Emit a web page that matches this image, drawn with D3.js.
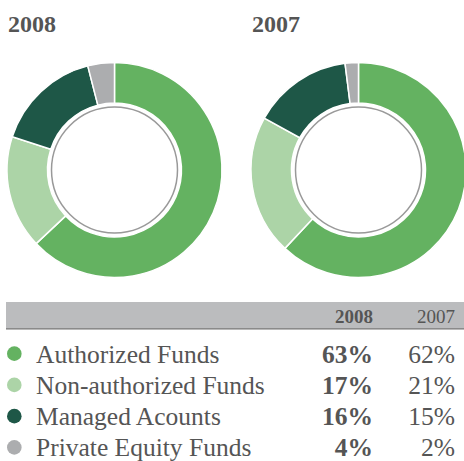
<!DOCTYPE html>
<html>
<head>
<meta charset="utf-8">
<script src="https://cdn.jsdelivr.net/npm/d3@7"></script>
<style>
  body { margin: 0; background: #fff; }
</style>
</head>
<body>
<script>
var categories = ["Authorized Funds", "Non-authorized Funds", "Managed Acounts", "Private Equity Funds"];
var years = ["2008", "2007"];
var values2008 = [63, 17, 16, 4];
var values2007 = [62, 21, 15, 2];
var colors = ["#64b261", "#acd4a7", "#1e5747", "#acadaf"];

var W = 464, H = 461;
var FONT = "'Liberation Serif', 'DejaVu Serif', Tinos, 'Times New Roman', serif";
var svg = d3.select("body").append("svg").attr("width", W).attr("height", H)
    .style("font-family", FONT);

var color = d3.scaleOrdinal().domain(categories).range(colors);
var pie = d3.pie().sort(null).value(function(d) { return d.value; });
var arc = d3.arc().innerRadius(67).outerRadius(107.5);

var charts = [
  {year: years[0], values: values2008, cx: 114.5, titleX: 8},
  {year: years[1], values: values2007, cx: 358.5, titleX: 252}
];

charts.forEach(function(c) {
  svg.append("text")
      .attr("x", c.titleX).attr("y", 32)
      .attr("font-family", FONT).attr("fill", "#555")
      .attr("font-size", 24).attr("font-weight", "bold")
      .text(c.year);

  var g = svg.append("g").attr("transform", "translate(" + c.cx + ",170)");
  var rows = categories.map(function(k, i) { return {key: k, value: c.values[i]}; });
  g.selectAll("path").data(pie(rows)).enter().append("path")
      .attr("d", arc)
      .attr("fill", function(d) { return color(d.data.key); })
      .attr("stroke", "#fff")
      .attr("stroke-width", 1.5);
  // inner ring
  g.append("circle").attr("r", 63)
      .attr("fill", "#fff").attr("stroke", "#999").attr("stroke-width", 1.5);
});

// table header band
svg.append("rect").attr("x", 6).attr("y", 302).attr("width", W - 6).attr("height", 26.5).attr("fill", "#bbbcbe");
svg.append("rect").attr("x", 6).attr("y", 328).attr("width", W - 6).attr("height", 1.6).attr("fill", "#8a8a8a");

var col2008 = 373, col2007 = 455;
svg.append("text").attr("x", col2008).attr("y", 322.5).attr("text-anchor", "end")
    .attr("font-family", FONT).attr("fill", "#555")
    .attr("font-size", 19).attr("font-weight", "bold").text(years[0]);
svg.append("text").attr("x", col2007).attr("y", 322.5).attr("text-anchor", "end")
    .attr("font-family", FONT).attr("fill", "#555")
    .attr("font-size", 19).text(years[1]);

var y = d3.scaleBand().domain(categories).range([339, 464]);

var row = svg.selectAll("g.row").data(categories).enter().append("g")
    .attr("class", "row")
    .attr("font-family", FONT).attr("fill", "#555")
    .attr("transform", function(d) { return "translate(0," + (y(d) + y.bandwidth() / 2) + ")"; });

row.append("circle").attr("cx", 14.3).attr("cy", -1).attr("r", 7.3)
    .attr("fill", function(d) { return color(d); });
row.append("text").attr("x", 36).attr("y", 8).attr("font-size", 25.5).text(function(d) { return d; });
row.append("text").attr("x", col2008).attr("y", 8).attr("text-anchor", "end")
    .attr("font-size", 25.5).attr("font-weight", "bold")
    .text(function(d, i) { return values2008[i] + "%"; });
row.append("text").attr("x", col2007).attr("y", 8).attr("text-anchor", "end")
    .attr("font-size", 25.5)
    .text(function(d, i) { return values2007[i] + "%"; });
</script>
</body>
</html>
